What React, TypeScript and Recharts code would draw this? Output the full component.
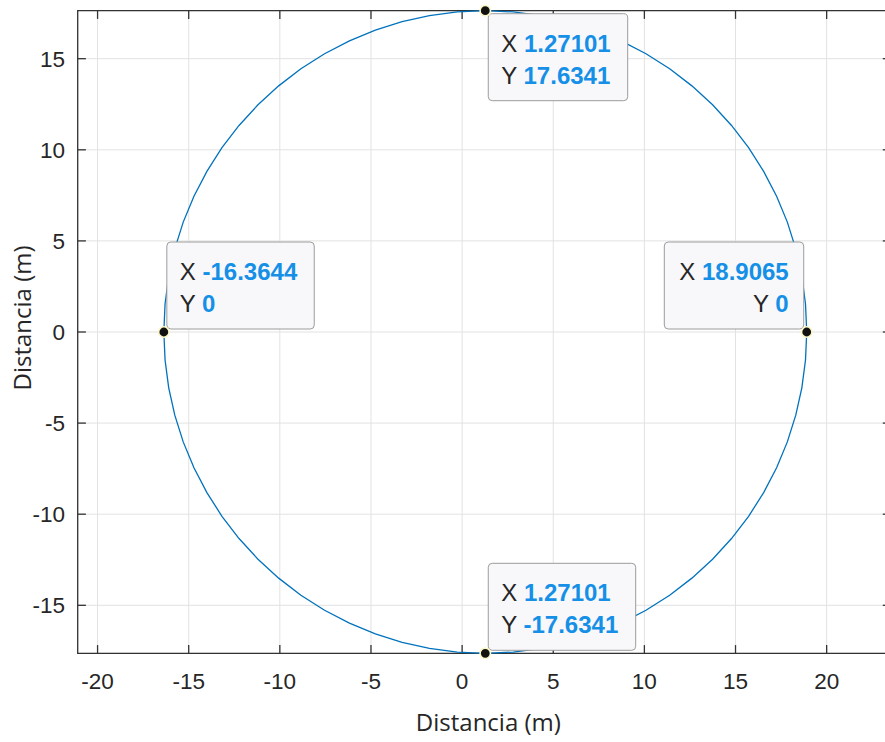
import React from 'react';
import {
  ComposedChart,
  Line,
  Scatter,
  XAxis,
  YAxis,
  CartesianGrid,
  ReferenceArea,
  ReferenceLine,
  Label,
} from 'recharts';

// ---------- data ----------
const X_TICKS = [-20, -15, -10, -5, 0, 5, 10, 15, 20];
const Y_TICKS = [-15, -10, -5, 0, 5, 10, 15];
const X_DOMAIN: [number, number] = [-21.09, 23.53];
const Y_DOMAIN: [number, number] = [-17.6341, 17.6341];

const CURVE_X = [
  18.9065, 18.8393, 18.6385, 18.3055, 17.8429, 17.2541, 16.5437, 15.7171, 14.7805, 13.7411,
  12.6068, 11.3862, 10.0887, 8.724, 7.3027, 5.8354, 4.3333, 2.808, 1.271, -0.266,
  -1.7913, -3.2934, -4.7607, -6.182, -7.5467, -8.8442, -10.0648, -11.1991, -12.2385, -13.1751,
  -14.0017, -14.7121, -15.3009, -15.7635, -16.0965, -16.2973, -16.3644, -16.2973, -16.0965, -15.7635,
  -15.3009, -14.7121, -14.0017, -13.1751, -12.2385, -11.1991, -10.0648, -8.8442, -7.5467, -6.182,
  -4.7607, -3.2934, -1.7913, -0.266, 1.271, 2.808, 4.3333, 5.8354, 7.3027, 8.724,
  10.0887, 11.3862, 12.6068, 13.7411, 14.7805, 15.7171, 16.5437, 17.2541, 17.8429, 18.3055,
  18.6385, 18.8393, 18.9065,
];
const CURVE_Y = [
  0, 1.5369, 3.0621, 4.564, 6.0312, 7.4525, 8.8171, 10.1145, 11.335, 12.4692,
  13.5085, 14.4451, 15.2716, 15.9819, 16.5707, 17.0332, 17.3662, 17.567, 17.6341, 17.567,
  17.3662, 17.0332, 16.5707, 15.9819, 15.2716, 14.4451, 13.5085, 12.4692, 11.335, 10.1145,
  8.8171, 7.4525, 6.0312, 4.564, 3.0621, 1.5369, 0, -1.5369, -3.0621, -4.564,
  -6.0312, -7.4525, -8.8171, -10.1145, -11.335, -12.4692, -13.5085, -14.4451, -15.2716, -15.9819,
  -16.5707, -17.0332, -17.3662, -17.567, -17.6341, -17.567, -17.3662, -17.0332, -16.5707, -15.9819,
  -15.2716, -14.4451, -13.5085, -12.4692, -11.335, -10.1145, -8.8171, -7.4525, -6.0312, -4.564,
  -3.0621, -1.5369, 0,
];

const TIP_X = [1.27101, -16.3644, 18.9065, 1.27101];
const TIP_Y = [17.6341, 0, 0, -17.6341];

const AXIS_X_LABEL = 'Distancia (m)';
const AXIS_Y_LABEL = 'Distancia (m)';

// ---------- derived tables ----------
const curveData = CURVE_X.map((x, i) => ({ x, y: CURVE_Y[i] }));
const tipData = TIP_X.map((x, i) => ({ x, y: TIP_Y[i] }));

// ---------- styles ----------
const AXIS_COLOR = '#333333';
const TEXT_COLOR = '#262626';
const GRID_COLOR = '#e2e2e2';
const LINE_COLOR = '#0072BD';
const TIP_BLUE = '#1590e6';
const SANS = '"Liberation Sans", Arial, Helvetica, sans-serif';
const LABEL_FONT = '"Open Sans", "Noto Sans", sans-serif';
const TIP_FONT_SIZE = 24;
const TICK_LEN_X = 0.45; // data units (~8px)
const TICK_LEN_Y = 0.45;

const fmt = (v: number) => String(Number(v.toPrecision(6)));

const charW = (s: string) => {
  let w = 0;
  for (const c of s) {
    if (c >= '0' && c <= '9') w += 0.556;
    else if (c === '.') w += 0.278;
    else if (c === '-') w += 0.333;
    else if (c === ' ') w += 0.278;
    else w += 0.667;
  }
  return w;
};

const TipShape = (props: any) => {
  const { cx, cy, payload } = props;
  if (cx == null || cy == null || !payload) return null;
  const xs = fmt(payload.x);
  const ys = fmt(payload.y);
  const w1 = charW('X ' + xs) * TIP_FONT_SIZE;
  const w2 = charW('Y ' + ys) * TIP_FONT_SIZE;
  const boxW = Math.max(w1, w2) + 30;
  const boxH = 87;
  const rightAligned = payload.y === 0 && payload.x > 0;
  const below = payload.y > 0;
  const left = rightAligned ? cx - 3 - boxW : cx + 3;
  const top = below ? cy + 3 : cy - 3 - boxH;
  const tx = rightAligned ? left + boxW - 15 : left + 13;
  const anchor = rightAligned ? 'end' : 'start';
  return (
    <g>
      <rect
        x={left}
        y={top}
        width={boxW}
        height={boxH}
        rx={4}
        ry={4}
        fill="#f8f8fb"
        stroke="#9c9c9c"
        strokeWidth={1}
      />
      <text x={tx} y={top + 38} textAnchor={anchor} fontSize={TIP_FONT_SIZE} fontFamily={SANS}>
        <tspan fill={TEXT_COLOR}>X </tspan>
        <tspan fill={TIP_BLUE} fontWeight="bold">{xs}</tspan>
      </text>
      <text x={tx} y={top + 70} textAnchor={anchor} fontSize={TIP_FONT_SIZE} fontFamily={SANS}>
        <tspan fill={TEXT_COLOR}>Y </tspan>
        <tspan fill={TIP_BLUE} fontWeight="bold">{ys}</tspan>
      </text>
      <circle cx={cx} cy={cy} r={5.2} fill="#111111" stroke="#fbf7c8" strokeWidth={1.6} />
    </g>
  );
};

const XLabelContent = (props: any) => {
  const vb = props.viewBox || {};
  const x = vb.x + vb.width / 2 + 4;
  const y = vb.y + vb.height - 11;
  return (
    <text x={x} y={y} textAnchor="middle" fontSize={24} fontFamily={LABEL_FONT} fill={TEXT_COLOR}>
      {AXIS_X_LABEL}
    </text>
  );
};

const YLabelContent = (props: any) => {
  const vb = props.viewBox || {};
  const x = vb.x + 22;
  const y = vb.y + vb.height / 2 - 14;
  return (
    <text
      x={x}
      y={y}
      dy="0.355em"
      transform={`rotate(-90 ${x} ${y})`}
      textAnchor="middle"
      fontSize={24}
      fontFamily={LABEL_FONT}
      fill={TEXT_COLOR}
    >
      {AXIS_Y_LABEL}
    </text>
  );
};

export default function App() {
  const tickStyle = { fontSize: 22.5, fill: TEXT_COLOR, fontFamily: SANS };
  return (
    <div style={{ position: 'absolute', left: 0, top: 0, width: 885, height: 742, overflow: 'hidden', background: '#fff' }}>
      <ComposedChart
        width={891}
        height={742}
        data={curveData}
        margin={{ top: 10.7, right: 0, bottom: 0, left: 0 }}
      >
        <CartesianGrid stroke={GRID_COLOR} strokeWidth={1} />
        <XAxis
          type="number"
          dataKey="x"
          domain={X_DOMAIN}
          ticks={X_TICKS}
          tick={tickStyle}
          tickLine={false}
          axisLine={false}
          tickSize={0}
          tickMargin={20}
          height={88.7}
          interval={0}
          label={<Label content={XLabelContent} />}
        />
        <YAxis
          type="number"
          dataKey="y"
          domain={Y_DOMAIN}
          ticks={Y_TICKS}
          tick={tickStyle}
          tickLine={false}
          axisLine={false}
          tickSize={0}
          tickMargin={12.7}
          width={77.7}
          interval={0}
          label={<Label content={YLabelContent} />}
        />
        <ReferenceArea
          x1={X_DOMAIN[0]}
          x2={X_DOMAIN[1]}
          y1={Y_DOMAIN[0]}
          y2={Y_DOMAIN[1]}
          fill="none"
          fillOpacity={0}
          stroke={AXIS_COLOR}
          strokeWidth={1.3}
          ifOverflow="visible"
        />
        {X_TICKS.map((t) => (
          <ReferenceLine
            key={'xb' + t}
            segment={[
              { x: t, y: Y_DOMAIN[0] },
              { x: t, y: Y_DOMAIN[0] + TICK_LEN_X },
            ]}
            stroke={AXIS_COLOR}
            strokeWidth={1.3}
            ifOverflow="visible"
          />
        ))}
        {X_TICKS.map((t) => (
          <ReferenceLine
            key={'xt' + t}
            segment={[
              { x: t, y: Y_DOMAIN[1] },
              { x: t, y: Y_DOMAIN[1] - TICK_LEN_X },
            ]}
            stroke={AXIS_COLOR}
            strokeWidth={1.3}
            ifOverflow="visible"
          />
        ))}
        {Y_TICKS.map((t) => (
          <ReferenceLine
            key={'yl' + t}
            segment={[
              { x: X_DOMAIN[0], y: t },
              { x: X_DOMAIN[0] + TICK_LEN_Y, y: t },
            ]}
            stroke={AXIS_COLOR}
            strokeWidth={1.3}
            ifOverflow="visible"
          />
        ))}
        {Y_TICKS.map((t) => (
          <ReferenceLine
            key={'yr' + t}
            segment={[
              { x: X_DOMAIN[1], y: t },
              { x: X_DOMAIN[1] - TICK_LEN_Y, y: t },
            ]}
            stroke={AXIS_COLOR}
            strokeWidth={1.3}
            ifOverflow="visible"
          />
        ))}
        <Line
          type="linear"
          dataKey="y"
          stroke={LINE_COLOR}
          strokeWidth={1.3}
          dot={false}
          activeDot={false}
          isAnimationActive={false}
        />
        <Scatter data={tipData} dataKey="y" shape={TipShape} isAnimationActive={false} />
      </ComposedChart>
    </div>
  );
}
